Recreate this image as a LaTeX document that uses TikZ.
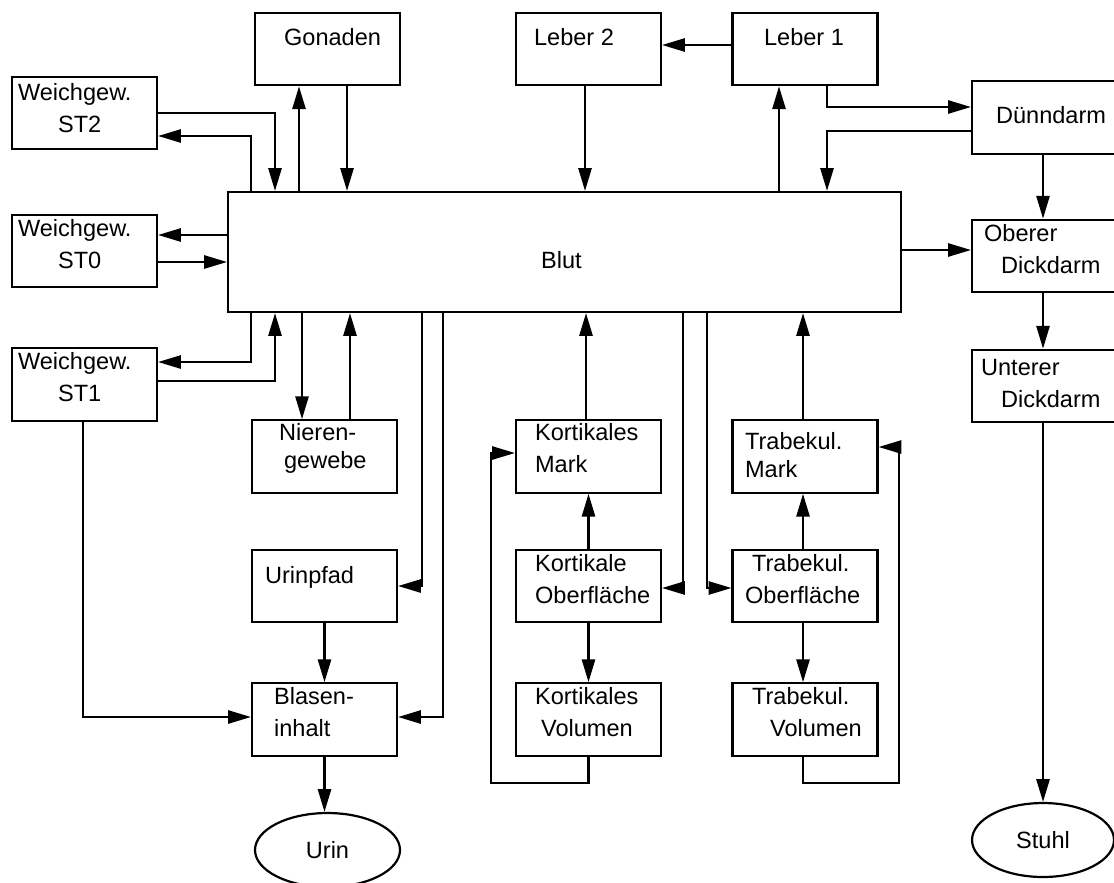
\documentclass[tikz,border=0pt]{standalone}
\usepackage{fontspec}
\setmainfont{Liberation Sans}
\usetikzlibrary{arrows.meta,shapes.geometric}

\begin{document}
\begin{tikzpicture}[x=0.02cm,y=-0.02cm,
   font=\fontsize{13.4pt}{18.1pt}\selectfont,
   >={Triangle[length=13pt,width=7.5pt]},
   line width=1.25pt,
   box/.style={draw,minimum width=2.9cm,minimum height=1.45cm,inner sep=0pt},
   oval/.style={draw,ellipse,minimum width=2.9cm,minimum height=1.48cm,inner sep=0pt},
   txt/.style={anchor=base west,align=left,inner sep=0pt}]
   \useasboundingbox (0,0) rectangle (1114,882);
   % Compartments
   \node[box] (gonaden)  at (327.5,49)  {};
   \node[box] (leber2)   at (588.5,49)  {};
   \node[box] (leber1)   at (805,49)    {};
   \node[box] (st2)      at (84.5,113)  {};
   \node[box] (st0)      at (84.5,251)  {};
   \node[box] (st1)      at (84.5,384.5) {};
   \node[box,minimum width=13.46cm,minimum height=2.4cm] (blut) at (564.5,252) {};
   \node[box] (duenn)    at (1044.5,117.5) {};
   \node[box] (oberer)   at (1044.5,256) {};
   \node[box] (unterer)  at (1044.5,386) {};
   \node[box] (nieren)   at (324.5,456.5) {};
   \node[box] (urinpfad) at (324.5,586) {};
   \node[box] (blasen)   at (324.5,719.5) {};
   \node[box] (kmark)    at (588.5,456.5) {};
   \node[box] (kober)    at (588.5,586) {};
   \node[box] (kvol)     at (588.5,719.5) {};
   \node[box] (tmark)    at (805,456.5) {};
   \node[box] (tober)    at (805,586)   {};
   \node[box] (tvol)     at (805,719.5) {};
   \node[oval] (urin)  at (327.5,850) {Urin};
   \node[oval,minimum width=2.84cm] (stuhl) at (1043,840) {Stuhl};
   % Labels (base = last line)
   \node[txt] (gonaden-t)  at (283,46)  {Gonaden};
   \node[txt] (leber2-t)   at (533,46)  {Leber 2};
   \node[txt] (leber1-t)   at (763,46)  {Leber 1};
   \node[txt] (st2-t)      at (17,132)  {Weichgew.\\\hspace*{0.8cm}ST2};
   \node[txt] (st0-t)      at (17,268)  {Weichgew.\\\hspace*{0.8cm}ST0};
   \node[txt] (st1-t)      at (17,401)  {Weichgew.\\\hspace*{0.8cm}ST1};
   \node[txt] (blut-t)     at (540,268) {Blut};
   \node[txt] (duenn-t)    at (995,123) {Dünndarm};
   \node[txt] (oberer-t)   at (983,273) {Oberer\\\hspace*{0.34cm}Dickdarm};
   \node[txt] (unterer-t)  at (980,407) {Unterer\\\hspace*{0.4cm}Dickdarm};
   \node[txt] (nieren-t)   at (278,468) {Nieren-\\[-2.3pt]\hspace*{0.1cm}gewebe};
   \node[txt] (urinpfad-t) at (264,583) {Urinpfad};
   \node[txt] (blasen-t)   at (273,736) {Blasen-\\inhalt};
   \node[txt] (kmark-t)    at (534,472) {Kortikales\\Mark};
   \node[txt] (tmark-t)    at (744,477) {Trabekul.\\[-2.3pt]Mark};
   \node[txt] (kober-t)    at (534,603) {Kortikale\\Oberfläche};
   \node[txt] (tober-t)    at (744,603) {\hspace*{0.14cm}Trabekul.\\Oberfläche};
   \node[txt] (kvol-t)     at (534,736) {Kortikales\\\hspace*{0.12cm}Volumen};
   \node[txt] (tvol-t)     at (751,736) {Trabekul.\\\hspace*{0.36cm}Volumen};
   % Soft tissue, gonads, kidney, bladder
   \draw[->] (st2.east) -| (275,0 |- blut.north);
   \draw[->] (251,0 |- blut.north) |- (st2.east |- 0,136);
   \draw[->] (299,0 |- blut.north) -- (299,0 |- gonaden.south);
   \draw[->] (347,0 |- gonaden.south) -- (347,0 |- blut.north);
   \draw[->] (blut.west |- 0,235) -- (st0.east |- 0,235);
   \draw[->] (st0.east |- 0,262) -- (blut.west |- 0,262);
   \draw[->] (251,0 |- blut.south) |- (st1.east |- 0,362);
   \draw[->] (st1.east |- 0,381) -| (275,0 |- blut.south);
   \draw[->] (302,0 |- blut.south) -- (302,0 |- nieren.north);
   \draw[->] (350,0 |- nieren.north) -- (350,0 |- blut.south);
   \draw[->] (422,0 |- blut.south) |- (urinpfad.east);
   \draw[->] (urinpfad.south) -- (blasen.north);
   \draw[->] (443,0 |- blut.south) |- (blasen.east |- 0,717);
   \draw[->] (83,0 |- st1.south) |- (blasen.west |- 0,717);
   \draw[->] (blasen.south) -- (blasen.south |- urin.north);
   % Liver and gut
   \draw[->] (585,0 |- leber2.south) -- (585,0 |- blut.north);
   \draw[->] (779,0 |- blut.north) -- (779,0 |- leber1.south);
   \draw[->] (leber1.west |- 0,45) -- (leber2.east |- 0,45);
   \draw[->] (827,0 |- leber1.south) |- (duenn.west |- 0,107);
   \draw[->] (duenn.west |- 0,131) -| (827,0 |- blut.north);
   \draw[->] (1043,0 |- duenn.south) -- (1043,0 |- oberer.north);
   \draw[->] (blut.east |- 0,250) -- (oberer.west |- 0,250);
   \draw[->] (1043,0 |- oberer.south) -- (1043,0 |- unterer.north);
   \draw[->] (1043,0 |- unterer.south) -- (stuhl.north);
   % Bone
   \draw[->] (586,0 |- kmark.north) -- (586,0 |- blut.south);
   \draw[->] (683,0 |- blut.south) |- (kober.east |- 0,588);
   \draw[->] (707,0 |- blut.south) |- (tober.west |- 0,588);
   \draw[->] (803,0 |- tmark.north) -- (803,0 |- blut.south);
   \draw[->] (kober.north) -- (kmark.south);
   \draw[->] (kober.south) -- (kvol.north);
   \draw[->] (803,0 |- tober.north) -- (803,0 |- tmark.south);
   \draw[->] (803,0 |- tober.south) -- (803,0 |- tvol.north);
   \draw[->] (kvol.south) |- (491,783) |- (kmark.west |- 0,453);
   \draw[->] (803,0 |- tvol.south) |- (899,783) |- (tmark.east |- 0,447);
\end{tikzpicture}
\end{document}
